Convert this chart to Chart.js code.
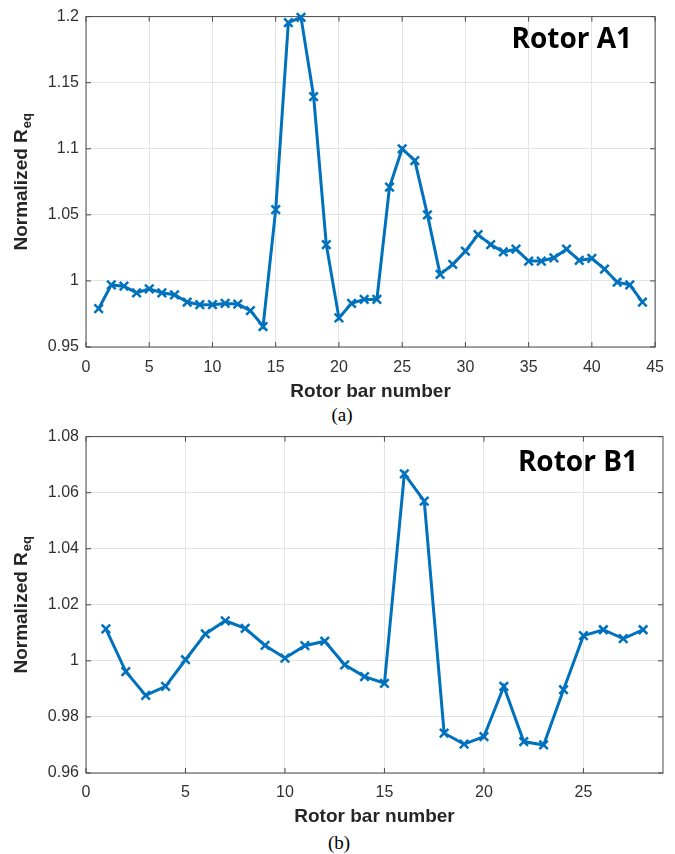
<!DOCTYPE html>
<html>
<head>
<meta charset="utf-8">
<script src="https://cdn.jsdelivr.net/npm/chart.js@4.4.1/dist/chart.umd.min.js"></script>
<style>
  body { margin: 0; background: #fff; width: 675px; height: 854px; position: relative; overflow: hidden; }
  .panel { position: absolute; left: 0; width: 675px; }
  .cap { position: absolute; font-family: "Liberation Serif", "Times New Roman", serif; font-size: 19px; color: #000; transform: translate(-50%, -50%); }
</style>
</head>
<body>
<div class="panel" style="top:0;height:403px"><canvas id="chartA"></canvas></div>
<div class="cap" style="left:342px;top:415px">(a)</div>
<div class="panel" style="top:420px;height:408px"><canvas id="chartB"></canvas></div>
<div class="cap" style="left:339px;top:843px">(b)</div>
<script>
// Rotor A1 : 44 bars
const barsA = [1, 2, 3, 4, 5, 6, 7, 8, 9, 10, 11, 12, 13, 14, 15, 16, 17, 18, 19, 20, 21, 22,
    23, 24, 25, 26, 27, 28, 29, 30, 31, 32, 33, 34, 35, 36, 37, 38, 39, 40, 41, 42, 43, 44];
const reqA = [0.979, 0.997, 0.996, 0.991, 0.994, 0.991, 0.9895, 0.984, 0.982, 0.982, 0.983,
    0.9825, 0.9775, 0.9655, 1.054, 1.1955, 1.1995, 1.1395, 1.0275, 0.972, 0.983, 0.986,
    0.986, 1.071, 1.1, 1.091, 1.05, 1.005, 1.0125, 1.0225, 1.035, 1.0275, 1.022, 1.024,
    1.015, 1.015, 1.0175, 1.024, 1.0155, 1.017, 1.009, 0.999, 0.997, 0.984];
const xTicksA = [0, 5, 10, 15, 20, 25, 30, 35, 40, 45];
const yTicksA = [0.95, 1, 1.05, 1.1, 1.15, 1.2];

// Rotor B1 : 28 bars
const barsB = [1, 2, 3, 4, 5, 6, 7, 8, 9, 10, 11, 12, 13, 14, 15, 16, 17, 18, 19, 20, 21, 22,
    23, 24, 25, 26, 27, 28];
const reqB = [1.0114, 0.9962, 0.9877, 0.9909, 1.0004, 1.0096, 1.0143, 1.0116, 1.0055, 1.001,
    1.0054, 1.007, 0.9986, 0.9944, 0.992, 1.0667, 1.057, 0.9742, 0.9703, 0.973, 0.9909,
    0.9712, 0.970, 0.9897, 1.009, 1.0111, 1.0079, 1.0111];
const xTicksB = [0, 5, 10, 15, 20, 25];
const yTicksB = [0.96, 0.98, 1, 1.02, 1.04, 1.06, 1.08];

const lineBlue = '#0072BD';
const axisGray = '#4a4a4a';
const gridGray = '#e4e4e4';
const textGray = '#303030';

function makeChart(id, bars, values, xTicks, yTicks, xMax, rotorName, cfg) {
    // box round the plot area plus MATLAB style inward ticks
    const boxPlugin = {
        id: 'box',
        beforeDatasetsDraw(chart) {
            const {ctx, chartArea: a, scales: {x, y}} = chart;
            ctx.save();
            ctx.strokeStyle = axisGray;
            ctx.lineWidth = 1;
            ctx.strokeRect(a.left, a.top, a.right - a.left, a.bottom - a.top);
            ctx.beginPath();
            xTicks.forEach(t => {
                const px = x.getPixelForValue(t);
                ctx.moveTo(px, a.bottom); ctx.lineTo(px, a.bottom - 5);
                ctx.moveTo(px, a.top); ctx.lineTo(px, a.top + 5);
            });
            yTicks.forEach(t => {
                const py = y.getPixelForValue(t);
                ctx.moveTo(a.left, py); ctx.lineTo(a.left + 5, py);
                ctx.moveTo(a.right, py); ctx.lineTo(a.right - 5, py);
            });
            ctx.stroke();
            ctx.restore();
        },
        afterDraw(chart) {
            const {ctx, chartArea: a} = chart;
            ctx.save();
            // rotor name, top right
            ctx.fillStyle = '#000';
            ctx.font = 'bold 28px "Open Sans", sans-serif';
            ctx.textAlign = 'right';
            ctx.textBaseline = 'alphabetic';
            ctx.fillText(rotorName, a.right - cfg.nameRight, a.top + cfg.nameBase);

            // y title with subscript
            const main = 'Normalized R', sub = 'eq';
            ctx.font = 'bold 19px "Liberation Sans", Arial, sans-serif';
            const wMain = ctx.measureText(main).width;
            ctx.font = 'bold 13px "Liberation Sans", Arial, sans-serif';
            const wSub = ctx.measureText(sub).width;
            const total = wMain + wSub + 1;
            ctx.translate(22, (a.top + a.bottom) / 2);
            ctx.rotate(-Math.PI / 2);
            ctx.fillStyle = '#262626';
            ctx.textAlign = 'left';
            ctx.textBaseline = 'middle';
            ctx.font = 'bold 19px "Liberation Sans", Arial, sans-serif';
            ctx.fillText(main, -total / 2, 0);
            ctx.font = 'bold 13px "Liberation Sans", Arial, sans-serif';
            ctx.fillText(sub, -total / 2 + wMain + 1, 5);
            ctx.restore();
        }
    };

    return new Chart(document.getElementById(id).getContext('2d'), {
        type: 'line',
        data: {
            datasets: [{
                data: bars.map((b, i) => ({x: b, y: values[i]})),
                borderColor: lineBlue,
                backgroundColor: lineBlue,
                borderWidth: 3,
                pointStyle: 'crossRot',
                pointRadius: 6,
                pointBorderWidth: 2.5,
                pointBorderColor: lineBlue,
                tension: 0,
                clip: false
            }]
        },
        options: {
            responsive: true,
            maintainAspectRatio: false,
            animation: false,
            layout: {padding: {left: 0, right: 12, top: cfg.top, bottom: 0}},
            plugins: {legend: {display: false}, tooltip: {enabled: false}},
            scales: {
                x: {
                    type: 'linear',
                    min: 0,
                    max: xMax,
                    afterBuildTicks: s => { s.ticks = xTicks.map(v => ({value: v})); },
                    afterFit: s => { s.height = cfg.xHeight; },
                    grid: {color: gridGray, drawTicks: false},
                    border: {display: false},
                    ticks: {
                        padding: cfg.xPad,
                        color: textGray,
                        maxRotation: 0,
                        font: {family: '"Liberation Sans", Arial, sans-serif', size: 16},
                        callback: v => String(v)
                    },
                    title: {
                        display: true,
                        text: 'Rotor bar number',
                        color: '#262626',
                        padding: 0,
                        font: {family: '"Liberation Sans", Arial, sans-serif', size: 19, weight: 'bold'}
                    }
                },
                y: {
                    min: yTicks[0],
                    max: yTicks[yTicks.length - 1],
                    afterBuildTicks: s => { s.ticks = yTicks.map(v => ({value: v})); },
                    afterFit: s => { s.width = 86; },
                    grid: {color: gridGray, drawTicks: false},
                    border: {display: false},
                    ticks: {
                        padding: 7,
                        color: textGray,
                        font: {family: '"Liberation Sans", Arial, sans-serif', size: 16},
                        callback: v => String(v)
                    }
                }
            }
        },
        plugins: [boxPlugin]
    });
}

makeChart('chartA', barsA, reqA, xTicksA, yTicksA, 45, 'Rotor A1',
    {top: 14, xHeight: 56, xPad: 11, nameRight: 23, nameBase: 31});
makeChart('chartB', barsB, reqB, xTicksB, yTicksB, 29, 'Rotor B1',
    {top: 15, xHeight: 55, xPad: 10, nameRight: 25, nameBase: 34});
</script>
</body>
</html>
